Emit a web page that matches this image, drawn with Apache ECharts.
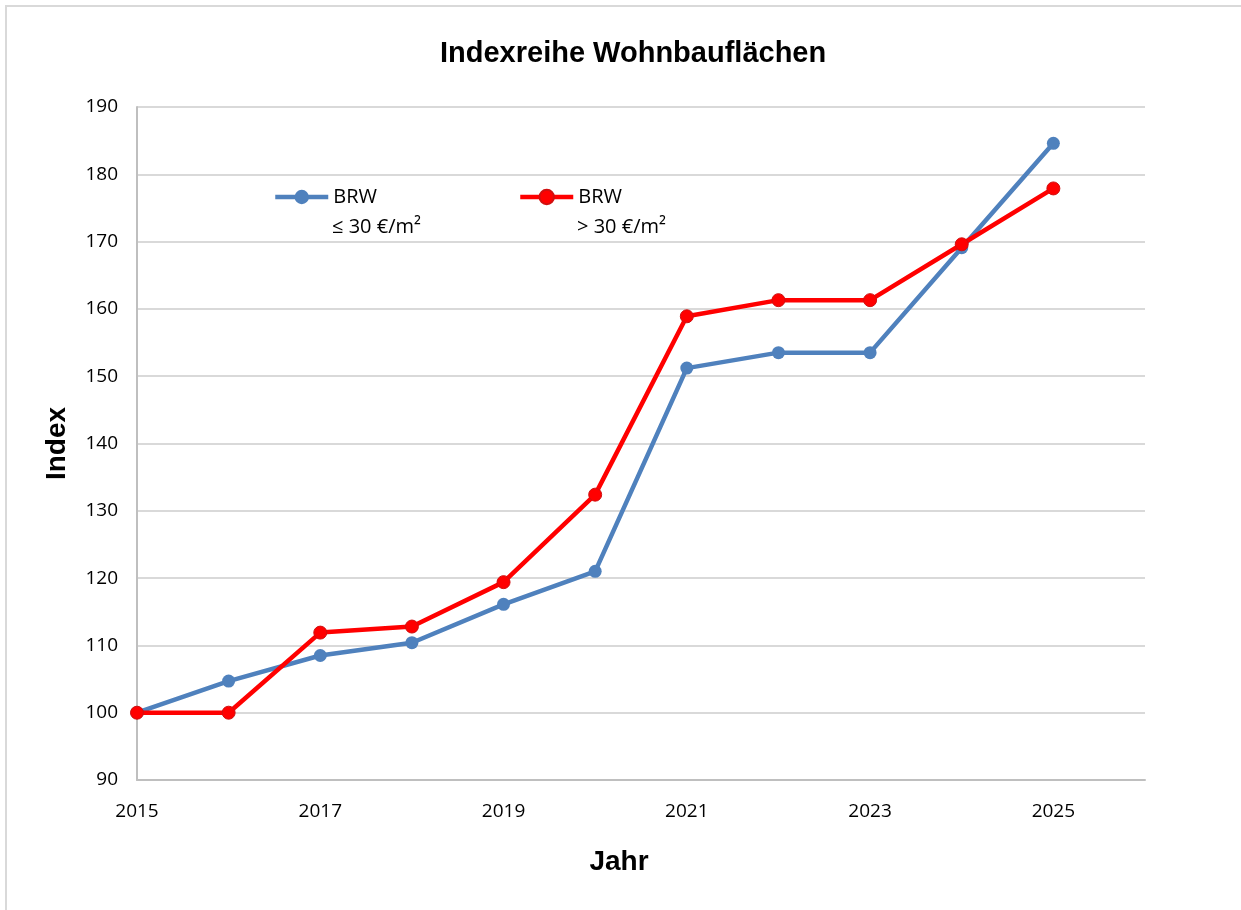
<!DOCTYPE html>
<html>
<head>
<meta charset="utf-8">
<script src="https://cdn.jsdelivr.net/npm/echarts@6/dist/echarts.min.js"></script>
<style>
	html, body { margin: 0; padding: 0; background: #fff; }
	#main { width: 1241px; height: 910px; }
</style>
</head>
<body>
<div id="main"></div>
<script>
	// Jahre und Indexwerte
	var years = [2015, 2016, 2017, 2018, 2019, 2020, 2021, 2022, 2023, 2024, 2025];
	var brwLow = [100, 104.7, 108.5, 110.4, 116.1, 121.0, 151.2, 153.5, 153.5, 169.1, 184.6];
	var brwHigh = [100, 100, 111.9, 112.8, 119.4, 132.4, 158.9, 161.3, 161.3, 169.6, 177.9];
	var nameLow = 'BRW ≤ 30 €/m²';
	var nameHigh = 'BRW > 30 €/m²';
	var subLow = '≤ 30 €/m²';
	var subHigh = '> 30 €/m²';

	function pairs(vals) {
		var out = [];
		for (var i = 0; i < years.length; i++) {
			out.push([years[i], vals[i]]);
		}
		return out;
	}

	var labelFont = "'Open Sans', 'Liberation Sans', sans-serif";
	var boldFont = "'Liberation Sans', Arial, sans-serif";

	function legendFor(name, x) {
		return {
			data: [name],
			left: x,
			top: 182,
			itemWidth: 53,
			itemHeight: 18,
			lineStyle: { width: 4.5 },
			formatter: function () { return 'BRW'; },
			textStyle: { fontFamily: labelFont, fontSize: 20, color: '#000' }
		};
	}

	var chart = echarts.init(document.getElementById('main'));
	chart.setOption({
		backgroundColor: '#fff',
		animation: false,
		title: {
			text: 'Indexreihe Wohnbauflächen',
			left: 435,
			top: 34,
			textStyle: { fontFamily: boldFont, fontSize: 29, fontWeight: 'bold', color: '#000' }
		},
		graphic: [{
			type: 'rect',
			shape: { x: 6, y: 6, width: 1300, height: 1000 },
			style: { fill: 'none', stroke: '#d9d9d9', lineWidth: 2 },
			silent: true
		}, {
			type: 'text',
			left: 332,
			top: 217,
			style: { text: subLow, fontFamily: labelFont, fontSize: 20, fill: '#000' },
			silent: true
		}, {
			type: 'text',
			left: 577,
			top: 217,
			style: { text: subHigh, fontFamily: labelFont, fontSize: 20, fill: '#000' },
			silent: true
		}],
		legend: [legendFor(nameLow, 268), legendFor(nameHigh, 513)],
		grid: { left: 137, right: 96, top: 107, bottom: 130 },
		xAxis: {
			type: 'value',
			min: 2015,
			max: 2026,
			interval: 1,
			name: 'Jahr',
			nameLocation: 'middle',
			nameGap: 68,
			nameTextStyle: { fontFamily: boldFont, fontSize: 28, fontWeight: 'bold', color: '#000', padding: [0, 44, 0, 0] },
			axisLine: { lineStyle: { color: '#bfbfbf', width: 2 } },
			axisTick: { show: false },
			splitLine: { show: false },
			axisLabel: {
				margin: 22,
				fontFamily: labelFont,
				fontSize: 19,
				color: '#000',
				formatter: function (v) { return (v % 2 === 1 && v <= 2025) ? String(v) : ''; }
			}
		},
		yAxis: {
			type: 'value',
			min: 90,
			max: 190,
			interval: 10,
			name: 'Index',
			nameLocation: 'middle',
			nameGap: 66,
			nameTextStyle: { fontFamily: boldFont, fontSize: 28, fontWeight: 'bold', color: '#000' },
			axisLine: { show: true, lineStyle: { color: '#bfbfbf', width: 2 } },
			axisTick: { show: false },
			splitLine: { lineStyle: { color: '#d9d9d9', width: 2 } },
			axisLabel: { margin: 19, fontFamily: labelFont, fontSize: 19, color: '#000' }
		},
		series: [{
			name: nameLow,
			type: 'line',
			data: pairs(brwLow),
			symbol: 'circle',
			symbolSize: 13,
			lineStyle: { color: '#4f81bd', width: 4.5 },
			itemStyle: { color: '#4f81bd' },
			z: 2
		}, {
			name: nameHigh,
			type: 'line',
			data: pairs(brwHigh),
			symbol: 'circle',
			symbolSize: 13,
			lineStyle: { color: '#ff0000', width: 4.5 },
			itemStyle: { color: '#ff0000', borderColor: '#d01010', borderWidth: 1 },
			z: 3
		}]
	});
</script>
</body>
</html>
